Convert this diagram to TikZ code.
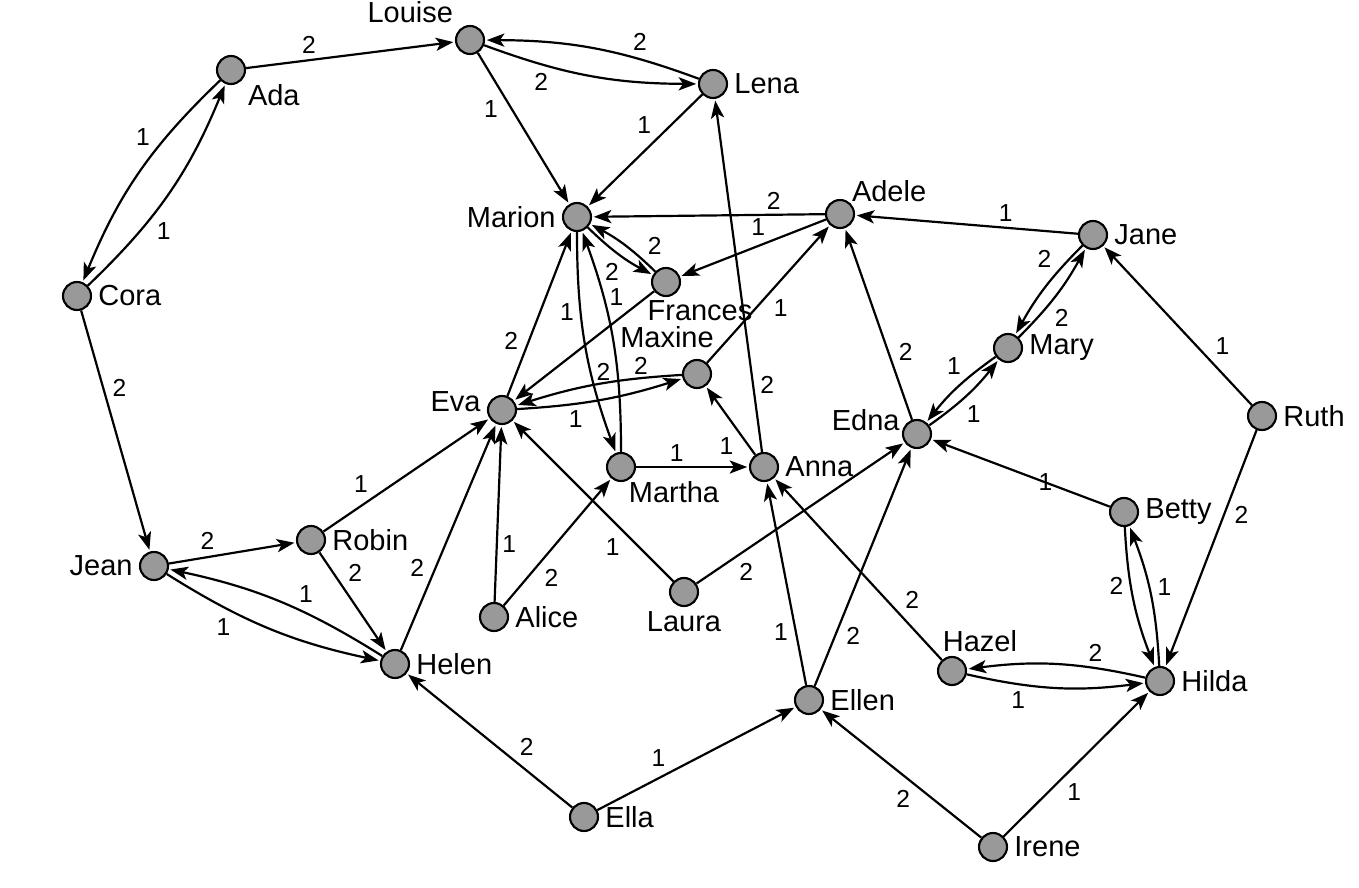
\documentclass[tikz,border=0pt]{standalone}
\usepackage{fontspec}
\setmainfont{Liberation Sans}
\usetikzlibrary{arrows.meta,positioning}

\tikzset{
  girl/.style={circle,draw,line width=1.2pt,fill=black!40,minimum size=0.56cm,inner sep=0pt},
  lbl/.style={font=\fontsize{16.5}{19}\selectfont,inner sep=3pt},
  choice/.style={font=\fontsize{14}{16}\selectfont,inner sep=2.5pt}
}

\begin{document}
\begin{tikzpicture}[x=0.02cm,y=-0.02cm,line width=1.25pt,shorten >=1pt,auto,
    >={Stealth[length=10pt,width=7.5pt,inset=2.5pt]},every label/.style=lbl]
    \useasboundingbox (0,0) rectangle (1359,888);

    \node[girl,label=above left:Louise]                   (louise)  at (470,40)   {};
    \node[girl,label={[yshift=0.06cm]below right:Ada}]    (ada)     at (231,70)   {};
    \node[girl,label=right:Lena]                          (lena)    at (713,84)   {};
    \node[girl,label=left:Marion]                         (marion)  at (577,217)  {};
    \node[girl,label={[xshift=-0.1cm,yshift=-0.1cm]above right:Adele}] (adele) at (840,214) {};
    \node[girl,label=right:Jane]                          (jane)    at (1093,235) {};
    \node[girl,label={[xshift=0.68cm,yshift=0.06cm]below:Frances}] (frances) at (666,282) {};
    \node[girl,label=right:Cora]                          (cora)    at (77,296)   {};
    \node[girl,label=right:Mary]                          (mary)    at (1008,348) {};
    \node[girl,label={[xshift=-0.6cm,yshift=0.1cm]above:Maxine}] (maxine) at (697,374) {};
    \node[girl,label={[yshift=0.16cm]left:Eva}]           (eva)     at (502,410)  {};
    \node[girl,label=right:Ruth]                          (ruth)    at (1262,416) {};
    \node[girl,label={[xshift=0.08cm,yshift=0.28cm]left:Edna}] (edna) at (917,434) {};
    \node[girl,label={[xshift=1.06cm,yshift=0.14cm]below:Martha}] (martha) at (621,467) {};
    \node[girl,label=right:Anna]                          (anna)    at (764,467)  {};
    \node[girl,label=right:Betty]                         (betty)   at (1124,512) {};
    \node[girl,label=right:Robin]                         (robin)   at (311,540)  {};
    \node[girl,label=left:Jean]                           (jean)    at (154,566)  {};
    \node[girl,label=right:Alice]                         (alice)   at (494,617)  {};
    \node[girl,label={[yshift=0.04cm]below:Laura}]        (laura)   at (684,592)  {};
    \node[girl,label=right:Helen]                         (helen)   at (395,664)  {};
    \node[girl,label={[xshift=0.56cm,yshift=-0.04cm]above:Hazel}] (hazel) at (952,671) {};
    \node[girl,label=right:Hilda]                         (hilda)   at (1160,681) {};
    \node[girl,label=right:Ellen]                         (ellen)   at (809,700)  {};
    \node[girl,label=right:Ella]                          (ella)    at (584,817)  {};
    \node[girl,label=right:Irene]                         (irene)   at (993,847)  {};

    \path[->] (ada)     edge                 node[choice,pos=.36]      {2} (louise)
              (ada)     edge [bend right=12] node[choice,pos=.38,swap] {1} (cora)
              (cora)    edge [bend right=12] node[choice,pos=.37,swap] {1} (ada)
              (cora)    edge                 node[choice,pos=.38]      {2} (jean)
              (louise)  edge [bend right=10] node[choice,pos=.32,swap] {2} (lena)
              (lena)    edge [bend right=10] node[choice,pos=.33,swap] {2} (louise)
              (louise)  edge                 node[choice,pos=.28,swap] {1} (marion)
              (lena)    edge                 node[choice,pos=.4,swap]  {1} (marion)
              (adele)   edge                 node[choice,pos=.22,swap] {2} (marion)
              (adele)   edge                 node[choice,pos=.38,swap] {1} (frances)
              (jane)    edge                 node[choice,pos=.38,swap] {1} (adele)
              (marion)  edge [bend right=8]  node[choice,pos=.6,swap]  {2} (frances)
              (frances) edge [bend right=8]  node[choice,pos=.2,swap]  {2} (marion)
              (marion)  edge [bend right=10] node[choice,pos=.28,swap] {1} (martha)
              (martha)  edge [bend right=10] node[choice,pos=.41]      {2} (marion)
              (frances) edge                 node[choice,pos=.18,swap] {1} (eva)
              (maxine)  edge [bend right=7]  node[choice,pos=.17,swap,inner sep=1pt] {2} (eva)
              (eva)     edge [bend right=7]  node[choice,pos=.26,swap] {1} (maxine)
              (eva)     edge                 node[choice,pos=.25]      {2} (marion)
              (maxine)  edge                 node[choice,pos=.5,swap]  {1} (adele)
              (anna)    edge                 node[choice,pos=.15,swap] {2} (lena)
              (anna)    edge                 node[choice,pos=.33]      {1} (maxine)
              (martha)  edge                 node[choice,pos=.36]      {1} (anna)
              (jane)    edge [bend right=8]  node[choice,pos=.32,swap] {2} (mary)
              (mary)    edge [bend right=8]  node[choice,pos=.4,swap]  {2} (jane)
              (mary)    edge [bend right=8]  node[choice,pos=.38,swap] {1} (edna)
              (edna)    edge [bend right=8]  node[choice,pos=.42,swap] {1} (mary)
              (edna)    edge                 node[choice,pos=.28,swap] {2} (adele)
              (ruth)    edge                 node[choice,pos=.28,swap] {1} (jane)
              (ruth)    edge                 node[choice,pos=.3]       {2} (hilda)
              (betty)   edge                 node[choice,pos=.36,auto=false] {1} (edna)
              (betty)   edge [bend right=9]  node[choice,pos=.3,swap]  {2} (hilda)
              (hilda)   edge [bend right=9]  node[choice,pos=.45,swap] {1} (betty)
              (hilda)   edge [bend right=10] node[choice,pos=.34,swap] {2} (hazel)
              (hazel)   edge [bend right=10] node[choice,pos=.35,swap] {1} (hilda)
              (hazel)   edge                 node[choice,pos=.25,swap] {2} (anna)
              (irene)   edge                 node[choice,pos=.4,swap]  {1} (hilda)
              (irene)   edge                 node[choice,pos=.41]      {2} (ellen)
              (ellen)   edge                 node[choice,pos=.33]      {1} (anna)
              (ellen)   edge                 node[choice,pos=.27,swap] {2} (edna)
              (ella)    edge                 node[choice,pos=.37]      {1} (ellen)
              (ella)    edge                 node[choice,pos=.35,swap] {2} (helen)
              (laura)   edge                 node[choice,pos=.3]       {1} (eva)
              (laura)   edge                 node[choice,pos=.18,swap] {2} (edna)
              (alice)   edge                 node[choice,pos=.33,swap] {1} (eva)
              (alice)   edge                 node[choice,pos=.33,swap] {2} (martha)
              (robin)   edge                 node[choice,pos=.3]       {1} (eva)
              (robin)   edge                 node[choice,pos=.35]      {2} (helen)
              (helen)   edge                 node[choice,pos=.3]       {2} (eva)
              (jean)    edge                 node[choice,pos=.4]       {2} (robin)
              (jean)    edge [bend right=10] node[choice,pos=.33,swap] {1} (helen)
              (helen)   edge [bend right=10] node[choice,pos=.43,swap] {1} (jean);

\end{tikzpicture}
\end{document}
